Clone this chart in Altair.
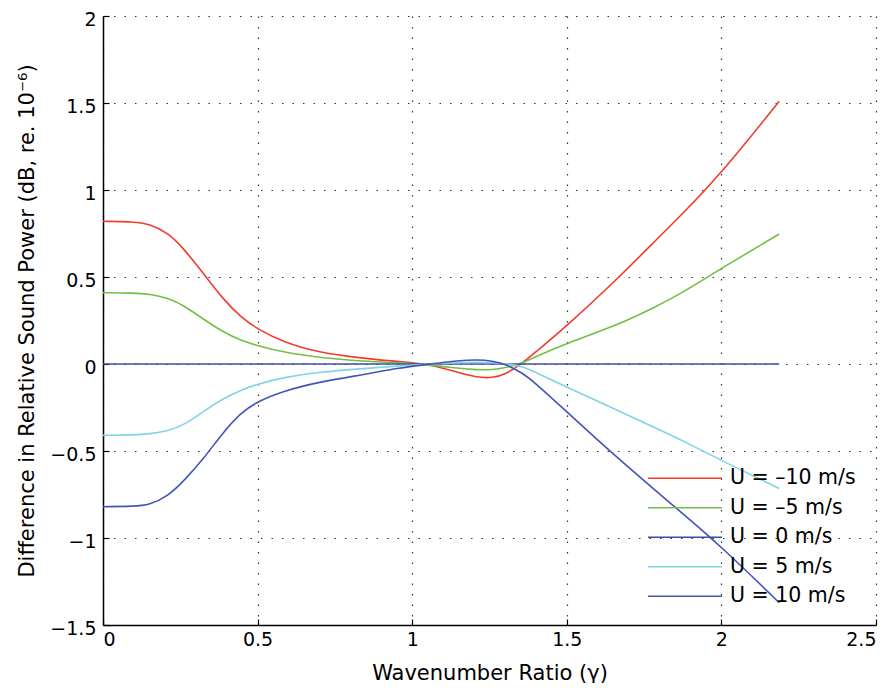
import altair as alt
import pandas as pd

FONT = "DejaVu Sans"

gamma = [0, 0.1, 0.15, 0.21, 0.263, 0.327, 0.392, 0.446, 0.5, 0.585, 0.692, 0.853, 0.95,
         1.056, 1.15, 1.21, 1.26, 1.30, 1.35, 1.39, 1.5, 1.67, 1.789, 1.875, 2.0, 2.187]

series_names = ["U = –10 m/s", "U = –5 m/s", "U = 0 m/s", "U = 5 m/s", "U = 10 m/s"]

u_m10 = [0.82, 0.818, 0.805, 0.755, 0.66, 0.515, 0.365, 0.27, 0.20, 0.125, 0.067, 0.03, 0.015,
         0.0, -0.05, -0.078, -0.08, -0.06, -0.005, 0.055, 0.218, 0.50, 0.713, 0.865, 1.096, 1.51]
u_m5 = [0.41, 0.408, 0.402, 0.38, 0.335, 0.255, 0.18, 0.135, 0.105, 0.067, 0.038, 0.015, 0.007,
        -0.005, -0.025, -0.034, -0.033, -0.022, 0.0, 0.035, 0.119, 0.228, 0.33, 0.41, 0.55, 0.747]
u_0 = [0.0] * len(gamma)
u_5 = [-0.41, -0.408, -0.402, -0.385, -0.35, -0.27, -0.195, -0.15, -0.115, -0.077, -0.048, -0.025, -0.012,
       0.0, 0.008, 0.01, 0.008, 0.002, -0.01, -0.04, -0.133, -0.27, -0.37, -0.44, -0.555, -0.715]
u_10 = [-0.82, -0.818, -0.81, -0.76, -0.67, -0.54, -0.385, -0.28, -0.215, -0.155, -0.105, -0.058, -0.025,
        0.0, 0.02, 0.025, 0.018, 0.0, -0.045, -0.095, -0.275, -0.55, -0.73, -0.86, -1.05, -1.372]

colors = ["#f23b2b", "#72bf44", "#3b4ea6", "#80d4e4", "#4455b8"]

x_ticks = [0, 0.5, 1, 1.5, 2, 2.5]
y_ticks = [-1.5, -1, -0.5, 0, 0.5, 1, 1.5, 2]

rows = []
for name, vals in zip(series_names, [u_m10, u_m5, u_0, u_5, u_10]):
    for g, v in zip(gamma, vals):
        rows.append({"gamma": g, "value": v, "series": name})
df = pd.DataFrame(rows)

common_axis = dict(
    labelFont=FONT, labelFontSize=19, labelColor="black",
    titleFont=FONT, titleFontSize=21, titleColor="black", titleFontWeight="normal",
    domainColor="black", domainWidth=1.5, tickSize=0,
    grid=True, gridColor="#333333", gridDash=[1.5, 9], gridWidth=1.2,
)

x_scale = alt.Scale(domain=[0, 2.5], nice=False, zero=False)
y_scale = alt.Scale(domain=[-1.5, 2], nice=False, zero=False)

lines = alt.Chart(df).mark_line(strokeWidth=1.6, interpolate="basis").encode(
    x=alt.X("gamma:Q", scale=x_scale,
            axis=alt.Axis(values=x_ticks, format="~g", title="Wavenumber Ratio (γ)",
                          labelPadding=5, titlePadding=13, orient="bottom", **common_axis)),
    y=alt.Y("value:Q", scale=y_scale,
            axis=alt.Axis(values=y_ticks, format="~g",
                          title="Difference in Relative Sound Power (dB, re. 10⁻⁶)",
                          labelPadding=7, labelOffset=3, titlePadding=12, orient="left",
                          **common_axis)),
    color=alt.Color("series:N", sort=series_names,
                    scale=alt.Scale(domain=series_names, range=colors),
                    legend=alt.Legend(title=None, orient="none", legendX=571.75, legendY=452,
                                      symbolType="M-5,0H5", symbolSize=219, symbolStrokeWidth=1.6,
                                      labelFont=FONT, labelFontSize=20.5, labelColor="black",
                                      labelOffset=34.75, rowPadding=8.5, padding=0)),
    detail="series:N",
)

tick_axis = dict(labels=False, domain=False, grid=False, title=None, tickSize=6,
                 tickColor="black", tickWidth=1.2, offset=-6)

ticks = alt.Chart(df).mark_line(opacity=0).encode(
    x=alt.X("gamma:Q", scale=x_scale, axis=alt.Axis(values=x_ticks, orient="bottom", **tick_axis)),
    y=alt.Y("value:Q", scale=y_scale, axis=alt.Axis(values=y_ticks, orient="left", **tick_axis)),
    detail="series:N",
)

chart = alt.layer(lines, ticks).resolve_axis(x="independent", y="independent").properties(
    width=773, height=609,
    autosize=alt.AutoSizeParams(type="none"),
    padding={"left": 95, "top": 8, "right": 12, "bottom": 58},
).configure_view(stroke=None)

chart.save("out.html", embed_options={"renderer": "svg", "actions": False})
